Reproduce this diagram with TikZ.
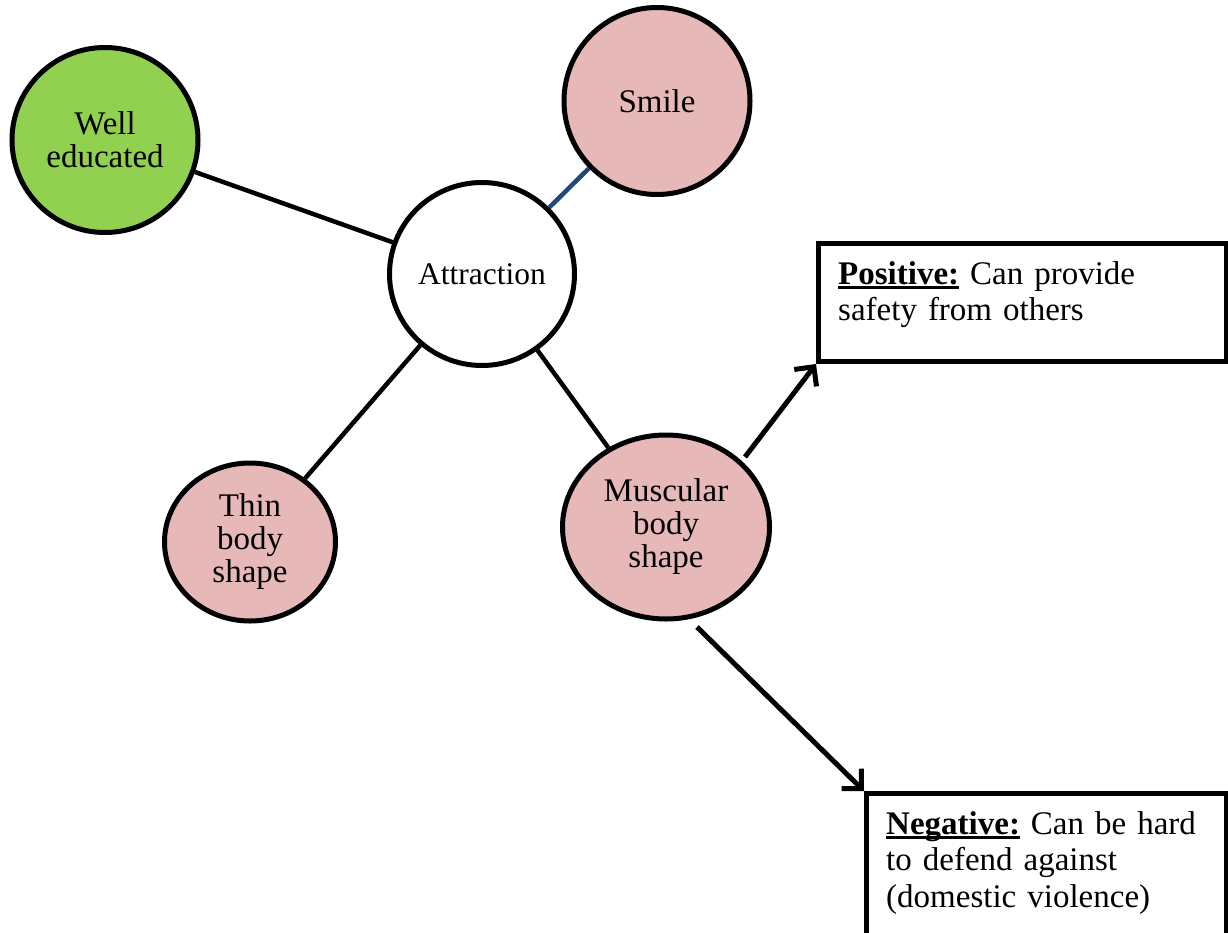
\documentclass[tikz,border=0pt]{standalone}
\usepackage{fontspec}
\setmainfont{Liberation Serif}
\usetikzlibrary{shapes.geometric,arrows.meta}
\definecolor{pinkfill}{HTML}{E6B9B8}
\definecolor{greenfill}{HTML}{92D050}
\definecolor{bluelink}{HTML}{1F497D}
\newcommand\myunderline[1]{\setbox0\hbox{#1}\rlap{\rule[-4.5pt]{\wd0}{2.2pt}}\box0\relax}
\begin{document}
\begin{tikzpicture}[x=1pt,y=-1pt,
  bubble/.style={ellipse,draw=black,line width=5pt,align=center,inner sep=0pt,
     font=\fontsize{33}{33}\selectfont},
  link/.style={line width=4.5pt,draw=black},
  arrowlink/.style={line width=5pt,draw=black,-{Straight Barb[length=14pt,width=28pt,line width=5pt]}},
  infobox/.style={rectangle,draw=black,line width=5pt,inner sep=0pt,anchor=north west},
  infotext/.style={anchor=north west,align=left,inner sep=0pt,text width=375pt,
     font=\fontsize{33}{36.5}\selectfont}
]
\useasboundingbox (0,0) rectangle (1228,932);
\fill[white] (0,0) rectangle (1228,932);

\node[bubble,fill=greenfill,minimum width=186pt,minimum height=185pt] (well) at (105,140) {Well\\educated};
\node[bubble,fill=pinkfill,minimum width=186pt,minimum height=187pt] (smile) at (657,101) {Smile};
\node[bubble,fill=white,minimum width=185pt,minimum height=183pt,font=\fontsize{31.5}{31.5}\selectfont] (attr) at (482,274) {Attraction};
\node[bubble,fill=pinkfill,minimum width=171pt,minimum height=158pt] (thin) at (250,542) {Thin\\body\\shape};
\node[bubble,fill=pinkfill,minimum width=207pt,minimum height=184pt] (musc) at (666,527) {Muscular\\body\\shape};

\node[infobox,minimum width=408pt,minimum height=118pt] (pos) at (816,241) {};
\node[infotext] (postext) at (838,261) {\myunderline{\textbf{Positive:}} Can provide\\safety from others};

\node[infobox,minimum width=360pt,minimum height=160pt] (neg) at (864,791) {};
\node[infotext] (negtext) at (886,811) {\myunderline{\textbf{Negative:}} Can be hard\\to defend against\\(domestic violence)};

\draw[link] (well) -- (attr);
\draw[link,draw=bluelink] (smile) -- (attr);
\draw[link] (thin) -- (attr);
\draw[link] (musc) -- (attr);

\coordinate (posstart) at (745,457);
\coordinate (negstart) at (697,627);
\draw[arrowlink] (posstart) -- (pos.south west);
\draw[arrowlink] (negstart) -- (neg.north west);
\end{tikzpicture}
\end{document}
